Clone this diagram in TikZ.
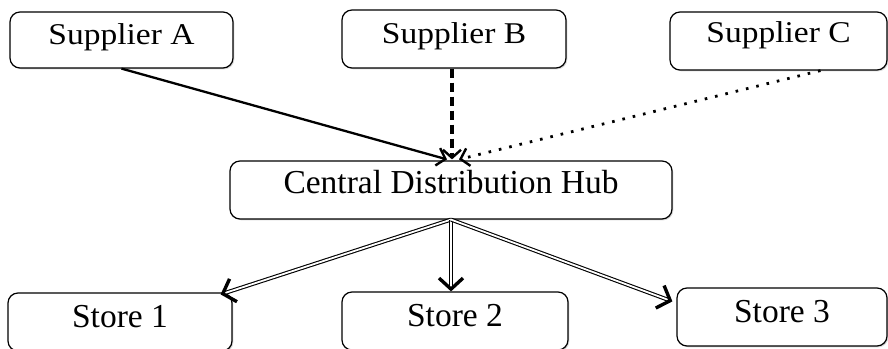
\documentclass[tikz,border=0pt]{standalone}
\usepackage{fontspec}
\setmainfont{Liberation Serif}
\usepackage{graphicx}
\usetikzlibrary{arrows.meta,calc,shadows}
\begin{document}
\begin{tikzpicture}[x=1pt,y=1pt,
  box/.style={draw, rounded corners=10pt, line width=1.2pt, fill=white, inner sep=0pt,
    font=\fontsize{33.5}{36}\selectfont,
    drop shadow={shadow xshift=1.3pt,shadow yshift=-1.3pt,opacity=0.3}},
  suptxt/.style={text height=21pt, text depth=12.6pt},
  hubtxt/.style={text height=22pt, text depth=14.2pt},
  storetxt/.style={text height=24pt, text depth=12.2pt},
  vtip/.style={-{Straight Barb[length=8pt,width=18pt,line width=2.4pt]}},
  solidarrow/.style={vtip, line width=2.3pt},
  dashedarrow/.style={vtip, line width=3.2pt, dash pattern=on 9pt off 5pt},
  dottedarrow/.style={vtip, line width=2.8pt, dash pattern=on 2.6pt off 8pt},
  dblarrow/.style={-{Straight Barb[length=11pt,width=24pt,line width=3.4pt]}, line width=1.1pt, double=white, double distance=1.8pt}
]
\useasboundingbox (0,0) rectangle (888,348);
\begin{scope}
\clip (0,0) rectangle (888,348);
\node[box, suptxt, minimum width=223pt, minimum height=56pt] (SA) at (121.5,308) {\scalebox{1}[0.9]{Supplier A}};
\node[box, suptxt, minimum width=224pt, minimum height=58pt] (SB) at (454,309) {\scalebox{1}[0.9]{Supplier B}};
\node[box, text height=17pt, text depth=14.6pt, minimum width=217pt, minimum height=58pt] (SC) at (778.5,307) {\scalebox{1}[0.9]{Supplier C}};
\node[box, hubtxt, minimum width=442pt, minimum height=58pt] (Hub) at (451,158) {Central Distribution Hub};
\node[box, storetxt, minimum width=224pt, minimum height=58pt] (S1) at (120,26) {Store 1};
\node[box, storetxt, minimum width=226pt, minimum height=58pt] (S2) at (455,27) {Store 2};
\node[box, storetxt, minimum width=210pt, minimum height=58pt] (S3) at (782,31) {Store 3};

\draw[solidarrow] (SA.south) -- ($(Hub.north)+(-4,1)$);
\draw[dashedarrow] ($(SB.south)+(-2,0)$) -- ($(Hub.north)+(1,1)$);
\draw[dottedarrow] ($(SC.south)+(42,0)$) -- ($(Hub.north)+(8,1)$);

\draw[dblarrow] (Hub.south) -- ($(S1.north east)+(-12,-2)$);
\draw[dblarrow] (Hub.south) -- (Hub.south |- S2.north);
\draw[dblarrow] (Hub.south) -- ($(S3.north west)+(-4,-14)$);
\end{scope}
\end{tikzpicture}
\end{document}
